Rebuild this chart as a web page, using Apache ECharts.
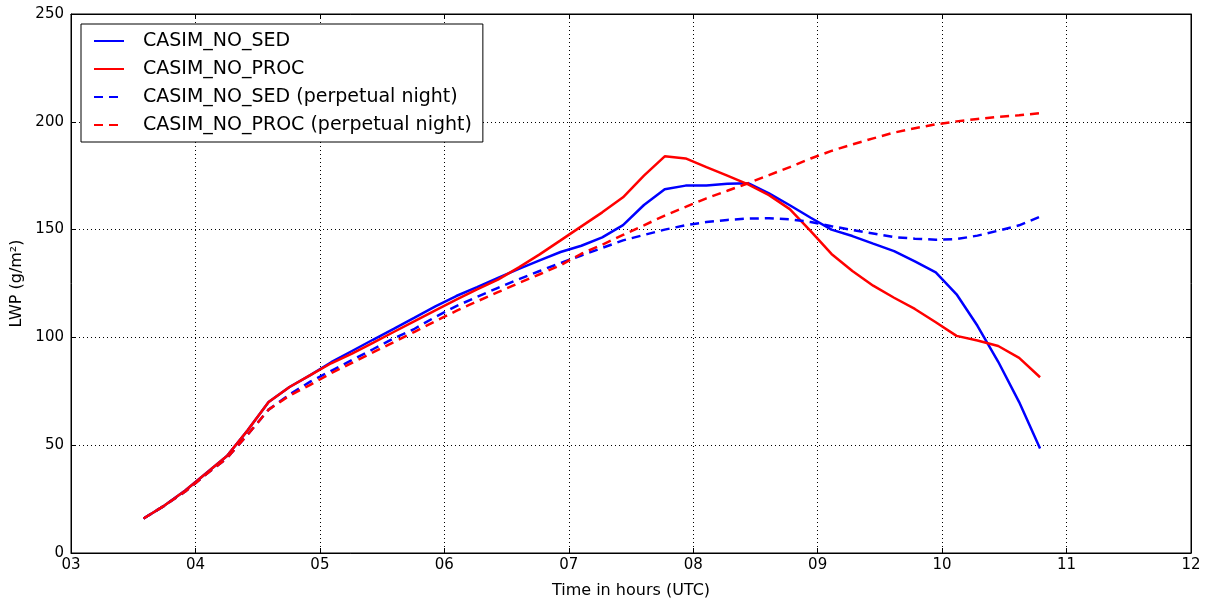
<!DOCTYPE html>
<html>
<head>
<meta charset="utf-8">
<script src="https://cdn.jsdelivr.net/npm/echarts@6/dist/echarts.min.js"></script>
<style>
  html, body { margin: 0; padding: 0; background: #fff; }
  #chart { width: 1210px; height: 601px; }
</style>
</head>
<body>
<div id="chart"></div>
<script>
// Model output times (hours UTC)
const times = [
  3.583, 3.751, 3.918, 4.086, 4.253, 4.421, 4.588, 4.756, 4.923, 5.091,
  5.258, 5.426, 5.593, 5.761, 5.928, 6.096, 6.263, 6.431, 6.599, 6.766,
  6.934, 7.101, 7.269, 7.436, 7.604, 7.771, 7.939, 8.106, 8.274, 8.441,
  8.609, 8.776, 8.944, 9.111, 9.279, 9.446, 9.614, 9.781, 9.949, 10.116,
  10.284, 10.451, 10.619, 10.787
];

// Liquid water path (g/m2)
const noSed = [
  16, 22, 29, 37, 45, 57, 70, 77, 82.5, 88.5,
  93.7, 98.9, 104, 109.2, 114.4, 119.2, 123.3, 127.6, 131.8, 135.7,
  139.6, 142.5, 146.4, 152.1, 161.4, 168.7, 170.4, 170.5, 171.3, 171.5,
  166.8, 161.3, 155.5, 150, 147, 143.5, 140, 135.3, 130.2, 120,
  105.4, 88.7, 70, 48.5
];
const noProc = [
  16, 22, 29, 37, 45, 57, 70, 77, 82.5, 88,
  92.5, 97.5, 102.5, 107.5, 112.5, 117.5, 122.3, 126.8, 132.5, 138.5,
  145, 151.5, 158, 165, 175, 184, 183, 179, 175, 171,
  166, 159.5, 149.3, 138.7, 130.8, 124, 118.4, 113.2, 107, 100.7,
  98.6, 96, 90.5, 81.5
];
const noSedNight = [
  16, 22, 28.5, 36.5, 44, 55, 66.5, 73.5, 79.5, 84.5,
  89.5, 94.5, 99.5, 104, 109.5, 114.5, 118.8, 123, 127, 130.8,
  134.5, 138, 141.5, 145, 147.5, 150, 152, 153.5, 154.5, 155.1,
  155.3, 154.8, 153.5, 151.6, 149.8, 148.2, 146.5, 145.8, 145.3, 145.6,
  147.2, 149.5, 152, 156
];
const noProcNight = [
  16, 22, 28.5, 36.5, 44, 55, 66.5, 73, 78, 83.4,
  88.2, 93, 97.8, 102.6, 107.5, 112.3, 116.7, 121, 125.2, 129.3,
  133.5, 138.8, 143, 147.5, 152, 156.5, 160.5, 164.5, 168, 171.5,
  175.3, 179, 183, 186.5, 189.5, 192.3, 195, 197, 198.8, 200.2,
  201.3, 202.3, 203, 204
];

const seriesNames = [
  'CASIM_NO_SED',
  'CASIM_NO_PROC',
  'CASIM_NO_SED (perpetual night)',
  'CASIM_NO_PROC (perpetual night)'
];

const pair = (ys) => times.map((t, i) => [t, ys[i]]);
const font = 'DejaVu Sans';

const makeLine = (name, ys, color, dashed) => ({
  name: name,
  type: 'line',
  data: pair(ys),
  showSymbol: false,
  symbol: 'none',
  smooth: false,
  animation: false,
  lineStyle: { color: color, width: 2.5, type: dashed ? [9, 6] : 'solid' },
  itemStyle: { color: color },
  z: 3
});

const tickLabel = (v) => (v < 10 ? '0' : '') + v;

const chart = echarts.init(document.getElementById('chart'), null, { renderer: 'canvas' });
chart.setOption({
  animation: false,
  backgroundColor: '#ffffff',
  grid: { left: 71, right: 19, top: 14, bottom: 48, containLabel: false,
          outerBoundsMode: 'none',
          show: true, borderColor: '#000', borderWidth: 1 },
  legend: {
    left: 81, top: 24,
    orient: 'vertical',
    data: seriesNames,
    itemWidth: 30, itemHeight: 14, itemGap: 8,
    padding: [7, 11, 7, 12],
    backgroundColor: '#fff',
    borderColor: '#000', borderWidth: 1, borderRadius: 0,
    // line-only keys: hide the marker that line series put in the key
    itemStyle: { opacity: 0 },
    textStyle: { fontFamily: font, fontSize: 19, color: '#000', lineHeight: 20,
                 padding: [0, 0, 0, 14] }
  },
  xAxis: [{
    type: 'value', min: 3, max: 12, interval: 1,
    name: 'Time in hours (UTC)', nameLocation: 'middle', nameGap: 30,
    nameTextStyle: { fontFamily: font, fontSize: 16, color: '#000' },
    axisLine: { show: true, onZero: false, lineStyle: { color: '#000', width: 1 } },
    axisTick: { show: true, inside: true, length: 5, lineStyle: { color: '#000' } },
    axisLabel: { fontFamily: font, fontSize: 15, color: '#000', margin: 5, formatter: tickLabel },
    splitLine: { show: true, lineStyle: { color: '#000', type: [1, 3], width: 1 } }
  }, {
    type: 'value', min: 3, max: 12, interval: 1, position: 'top',
    axisLine: { show: true, onZero: false, lineStyle: { color: '#000', width: 1 } },
    axisTick: { show: true, inside: true, length: 5, lineStyle: { color: '#000' } },
    axisLabel: { show: false }, splitLine: { show: false }
  }],
  yAxis: [{
    type: 'value', min: 0, max: 250, interval: 50,
    name: 'LWP (g/m²)', nameLocation: 'middle', nameGap: 42, nameRotate: 90,
    nameTextStyle: { fontFamily: font, fontSize: 16, color: '#000' },
    axisLine: { show: true, onZero: false, lineStyle: { color: '#000', width: 1 } },
    axisTick: { show: true, inside: true, length: 5, lineStyle: { color: '#000' } },
    axisLabel: { fontFamily: font, fontSize: 15, color: '#000', margin: 7 },
    splitLine: { show: true, lineStyle: { color: '#000', type: [1, 3], width: 1 } }
  }, {
    type: 'value', min: 0, max: 250, interval: 50, position: 'right',
    axisLine: { show: true, onZero: false, lineStyle: { color: '#000', width: 1 } },
    axisTick: { show: true, inside: true, length: 5, lineStyle: { color: '#000' } },
    axisLabel: { show: false }, splitLine: { show: false }
  }],
  series: [
    makeLine(seriesNames[0], noSed, '#0000ff', false),
    makeLine(seriesNames[1], noProc, '#ff0000', false),
    makeLine(seriesNames[2], noSedNight, '#0000ff', true),
    makeLine(seriesNames[3], noProcNight, '#ff0000', true)
  ]
});
</script>
</body>
</html>
